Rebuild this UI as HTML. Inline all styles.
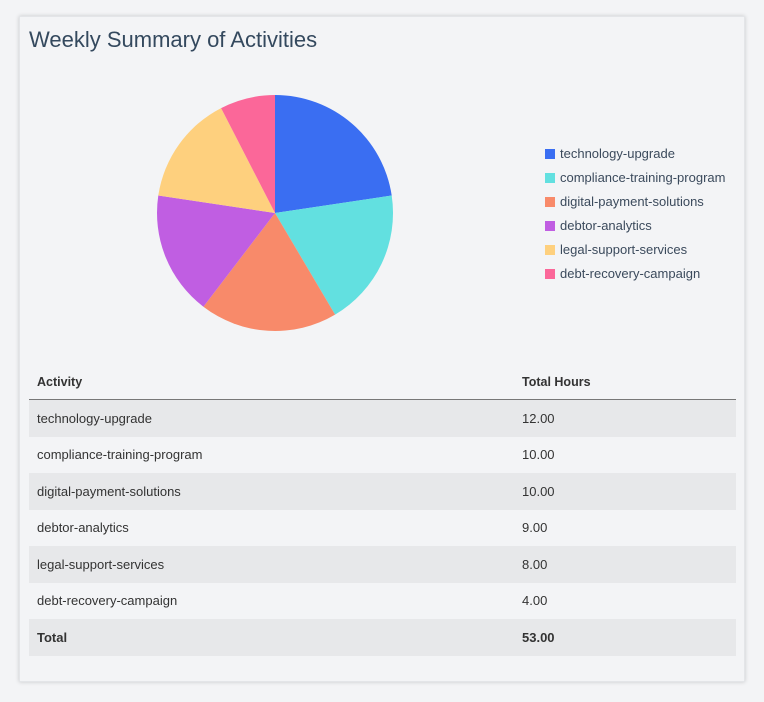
<!DOCTYPE html>
<html><head><style>
body{margin:0;width:764px;height:702px;background:#f3f4f6;font-family:"Liberation Sans",sans-serif;overflow:hidden}
.card{position:absolute;left:19px;top:16px;width:726px;height:666px;background:#f3f4f6;box-shadow:0 0 4px rgba(0,0,0,.18);border:1px solid #e3e5e8;box-sizing:border-box}
h1{position:absolute;left:9px;top:10px;margin:0;font-size:22px;font-weight:normal;color:#34495e}
.leg{position:absolute;left:525px;font-size:13px;color:#3b4a5c}
.leg span{display:inline-block;width:10px;height:10px;margin-right:5px;vertical-align:-1px}
table{position:absolute;left:9px;top:348px;width:707px;border-collapse:collapse;font-size:13px;color:#333}
th{text-align:left;font-weight:bold;height:34px;padding:0 8px;border-bottom:1px solid #777;font-size:12.5px}
td{height:36.5px;padding:0 8px}
tr.s td{background:#e7e8ea}
</style></head><body>
<div class="card">
<h1>Weekly Summary of Activities</h1>
<svg style="position:absolute;left:-20px;top:-17px" width="764" height="702">
<path d="M275,213 L275,95 A118,118 0 0 1 391.7,195.5Z" fill="#3a6ef2"/>
<path d="M275,213 L391.7,195.5 A118,118 0 0 1 335.1,314.6Z" fill="#62e0e0"/>
<path d="M275,213 L335.1,314.6 A118,118 0 0 1 203.4,306.7Z" fill="#f88a6a"/>
<path d="M275,213 L203.4,306.7 A118,118 0 0 1 158.3,195.5Z" fill="#c05ee2"/>
<path d="M275,213 L158.3,195.5 A118,118 0 0 1 221.1,108.1Z" fill="#fed07e"/>
<path d="M275,213 L221.1,108.1 A118,118 0 0 1 275,95Z" fill="#fb6799"/>
</svg>
<div class="leg" style="top:129px"><span style="background:#3a6ef2"></span>technology-upgrade</div>
<div class="leg" style="top:153px"><span style="background:#62e0e0"></span>compliance-training-program</div>
<div class="leg" style="top:177px"><span style="background:#f88a6a"></span>digital-payment-solutions</div>
<div class="leg" style="top:201px"><span style="background:#c05ee2"></span>debtor-analytics</div>
<div class="leg" style="top:225px"><span style="background:#fed07e"></span>legal-support-services</div>
<div class="leg" style="top:249px"><span style="background:#fb6799"></span>debt-recovery-campaign</div>
<table>
<tr><th style="width:469px">Activity</th><th>Total Hours</th></tr>
<tr class="s"><td>technology-upgrade</td><td>12.00</td></tr>
<tr><td>compliance-training-program</td><td>10.00</td></tr>
<tr class="s"><td>digital-payment-solutions</td><td>10.00</td></tr>
<tr><td>debtor-analytics</td><td>9.00</td></tr>
<tr class="s"><td>legal-support-services</td><td>8.00</td></tr>
<tr><td>debt-recovery-campaign</td><td>4.00</td></tr>
<tr class="s"><td><b>Total</b></td><td><b>53.00</b></td></tr>
</table>
</div>
</body></html>
